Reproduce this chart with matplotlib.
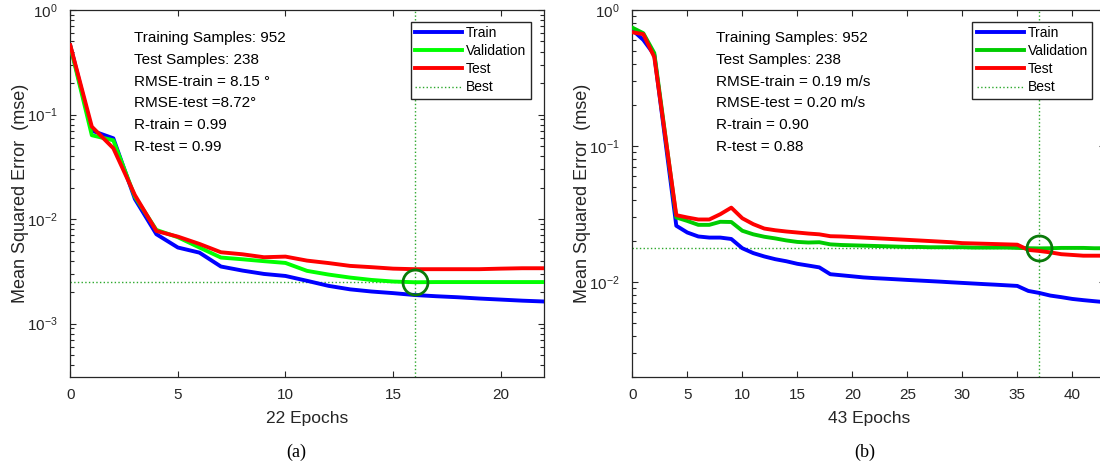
import numpy as np
import matplotlib
matplotlib.use("Agg")
import matplotlib.pyplot as plt
from matplotlib.ticker import LogLocator, NullFormatter, MultipleLocator, FixedLocator

plt.rcParams["font.family"] = ["Liberation Sans", "DejaVu Sans"]
plt.rcParams["mathtext.fontset"] = "custom"
plt.rcParams["mathtext.rm"] = "Liberation Sans"
plt.rcParams["mathtext.it"] = "Liberation Sans"

# (a) 22 epochs
train_a = [0.456, 0.0702, 0.0593, 0.0156, 0.00717, 0.00535, 0.00478, 0.00352,
           0.00322, 0.00299, 0.00286, 0.00257, 0.0023, 0.00213, 0.00203, 0.00196,
           0.00188, 0.00183, 0.00179, 0.00174, 0.0017, 0.00166, 0.00163]
val_a = [0.45, 0.0634, 0.0567, 0.0164, 0.00788, 0.00671, 0.00535, 0.00429,
         0.00413, 0.00396, 0.00381, 0.0032, 0.00295, 0.00276, 0.00262, 0.00253,
         0.00249, 0.0025, 0.0025, 0.0025, 0.0025, 0.0025, 0.0025]
test_a = [0.46, 0.0766, 0.0476, 0.017, 0.0077, 0.0068, 0.00579, 0.00482,
          0.00461, 0.00432, 0.00438, 0.00401, 0.0038, 0.00357, 0.00347, 0.00336,
          0.00332, 0.00332, 0.00332, 0.00332, 0.00336, 0.00339, 0.00339]
best_a = 16
notes_a = ["Training Samples: 952", "Test Samples: 238", "RMSE-train = 8.15 \u00b0",
           "RMSE-test =8.72\u00b0", "R-train = 0.99", "R-test = 0.99"]

# (b) 43 epochs
train_b = [0.714, 0.603, 0.468, 0.11, 0.0259, 0.0231, 0.0216, 0.0212, 0.0212,
           0.0207, 0.0177, 0.0163, 0.0154, 0.0147, 0.0142, 0.0136, 0.0132, 0.0128,
           0.0114, 0.0112, 0.0110, 0.0108,
           0.01067, 0.01057, 0.01046, 0.01035, 0.01025, 0.01015, 0.01005, 0.00994,
           0.00984, 0.00974, 0.00964, 0.00955, 0.00945, 0.00935,
           0.00859, 0.0083, 0.00794, 0.00773, 0.0075, 0.00735, 0.00722, 0.0071]
val_b = [0.742, 0.675, 0.482, 0.12, 0.0298, 0.0281, 0.0263, 0.0263, 0.0277,
         0.0276, 0.0238, 0.0224, 0.0215, 0.0209, 0.0202, 0.0197, 0.0195, 0.0196,
         0.0189, 0.0187, 0.0186, 0.0185,
         0.0184, 0.0183, 0.0182, 0.0181, 0.0181, 0.0180, 0.0180, 0.0180,
         0.0180, 0.0179, 0.0179, 0.0179, 0.0179, 0.0178,
         0.0177, 0.01766, 0.0177, 0.0178, 0.0178, 0.0178, 0.0177, 0.0177]
test_b = [0.686, 0.664, 0.45, 0.118, 0.031, 0.0298, 0.0288, 0.0288, 0.0315,
          0.0352, 0.0294, 0.0266, 0.0247, 0.024, 0.0235, 0.0231, 0.0227, 0.0224,
          0.0217, 0.0216, 0.0214, 0.0212,
          0.0210, 0.0208, 0.0206, 0.0204, 0.0202, 0.0200, 0.0198, 0.0196,
          0.0193, 0.0192, 0.0191, 0.0190, 0.0189, 0.0188,
          0.0172, 0.0169, 0.0165, 0.0160, 0.0158, 0.0156, 0.0156, 0.0156]
best_b = 37
notes_b = ["Training Samples: 952", "Test Samples: 238", "RMSE-train = 0.19 m/s",
           "RMSE-test = 0.20 m/s", "R-train = 0.90", "R-test = 0.88"]

W, H = 1100, 466
fig = plt.figure(figsize=(W / 100, H / 100), dpi=100)
ax1 = fig.add_axes([70.3 / W, 1 - 377 / H, 473.4 / W, 367 / H])
ax2 = fig.add_axes([632.3 / W, 1 - 377 / H, 473.0 / W, 367 / H])

ink = "#262626"
best_col = "#2ca82c"
minor_locs = [s * 10.0 ** d for d in range(-5, 1) for s in range(2, 10)]


def panel(ax, train, val, test, best, notes, ylim, green, xlabel, ntx):
    ep = np.arange(len(train))
    bx = best
    by = val[best]
    ax.axhline(by, color=best_col, ls=":", lw=1.0, zorder=1)
    ax.axvline(bx, color=best_col, ls=":", lw=1.0, zorder=1)
    ax.plot(ep, train, color="#0000ff", lw=2.8, label="Train", zorder=3)
    ax.plot(ep, val, color=green, lw=2.8, label="Validation", zorder=4)
    ax.plot(ep, test, color="#ff0000", lw=2.8, label="Test", zorder=5)
    ax.plot([], [], color=best_col, ls=":", lw=1.0, label="Best")
    ax.plot([bx], [by], "o", ms=18, mfc="none", mec="#0a7a0a", mew=2, zorder=6)

    ax.set_yscale("log")
    ax.set_xlim(0, len(train) - 1)
    ax.set_ylim(*ylim)
    ax.xaxis.set_major_locator(MultipleLocator(5))
    ax.yaxis.set_major_locator(LogLocator(base=10, numticks=20))
    ax.yaxis.set_minor_locator(FixedLocator(minor_locs))
    ax.yaxis.set_minor_formatter(NullFormatter())
    ax.tick_params(which="both", direction="in", top=True, right=True,
                   colors=ink, labelsize=11)
    ax.tick_params(which="major", length=4, width=0.8)
    ax.tick_params(which="minor", length=2.8, width=0.8)
    ax.tick_params(axis="x", pad=8)
    ax.tick_params(axis="y", pad=9)
    for s in ax.spines.values():
        s.set_color(ink)
        s.set_linewidth(0.9)

    ax.set_xlabel(xlabel, fontsize=12.5, color=ink, va="center")
    ax.xaxis.set_label_coords(0.5, -(418 - 377) / 367)
    ax.set_ylabel("Mean Squared Error  (mse)", fontsize=13, color=ink, va="center")
    ax.yaxis.set_label_coords(-0.106, 0.5)

    for i, t in enumerate(notes):
        ax.text(ntx, 1 - (28 + 21.8 * i) / 367, t, transform=ax.transAxes,
                fontsize=11, color="black", va="center", ha="left")

    leg = ax.legend(loc="upper left", bbox_to_anchor=(0.719, 0.968),
                    borderaxespad=0, fontsize=10, frameon=True, fancybox=False,
                    handlelength=3.4, handletextpad=0.3, labelspacing=0.3,
                    borderpad=0.3, framealpha=1)
    leg.get_frame().set_edgecolor(ink)
    leg.get_frame().set_linewidth(1.0)


panel(ax1, train_a, val_a, test_a, best_a, notes_a, (10 ** -3.51, 1),
      "#00ff00", "22 Epochs", 0.135)
panel(ax2, train_b, val_b, test_b, best_b, notes_b, (2.0e-3, 1),
      "#00cc00", "43 Epochs", 0.176)

fig.text(296 / W, 1 - 452 / H, "(a)", ha="center", va="center",
         fontsize=13, family="Liberation Serif")
fig.text(865 / W, 1 - 452 / H, "(b)", ha="center", va="center",
         fontsize=13, family="Liberation Serif")

fig.savefig("out.png", dpi=100)
